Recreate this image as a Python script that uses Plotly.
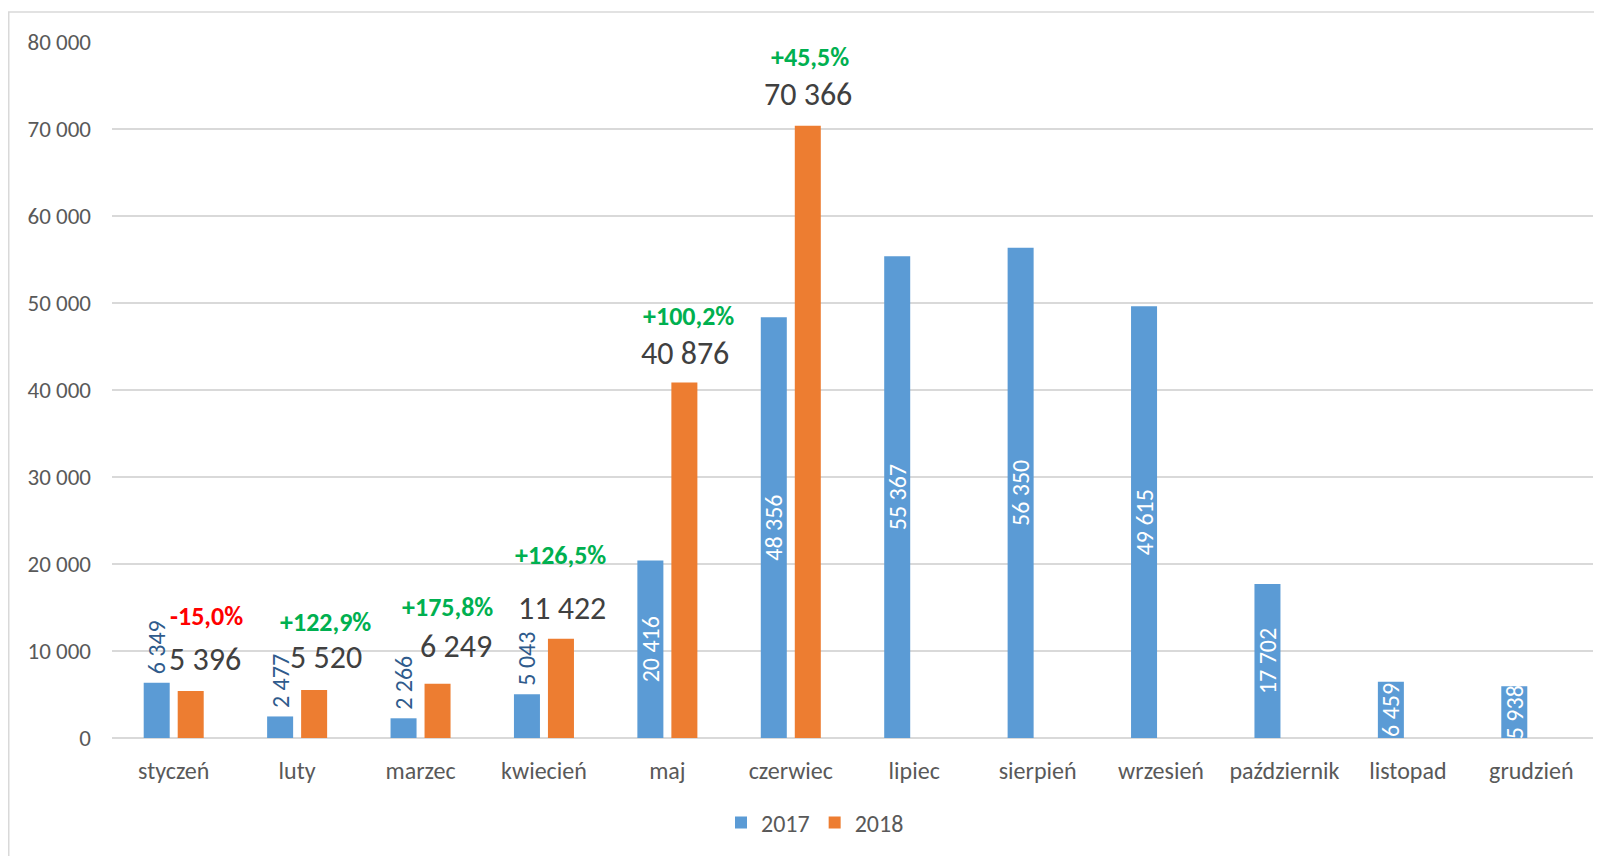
import plotly.graph_objects as go

months = ["styczeń", "luty", "marzec", "kwiecień", "maj", "czerwiec",
          "lipiec", "sierpień", "wrzesień", "październik", "listopad", "grudzień"]
values_2017 = [6349, 2477, 2266, 5043, 20416, 48356, 55367, 56350, 49615, 17702, 6459, 5938]
values_2018 = [5396, 5520, 6249, 11422, 40876, 70366, None, None, None, None, None, None]
y_ticks = [0, 10000, 20000, 30000, 40000, 50000, 60000, 70000, 80000]

# styling: where each 2017 label sits, and pixel offsets for the 2018 annotations
label_pos_2017 = ["outside"] * 4 + ["inside"] * 8
val_dx = [31, 29, 35, 18, 18, 17]
val_dy = [32, 32, 37, 30, 29, 31]
pct_dx = [33, 28, 27, 17, 21, 19]
pct_dy = [75, 68, 77, 84, 66, 69]

FONT = "Carlito, Calibri, Lato, sans-serif"
BLUE = "#5B9BD5"
ORANGE = "#ED7D31"


def fmt(v):
    return f"{v:,}".replace(",", " ")


# page has an 8px body margin: figure sits at (8, 8)
W, H = 1594, 848
ML, MR, MT, MB = 104, 9, 34, 118
PW, PH = W - ML - MR, H - MT - MB

texts_2017 = [("\u00a0" + fmt(v)) if p == "outside" else fmt(v)
              for v, p in zip(values_2017, label_pos_2017)]

fig = go.Figure()
fig.add_trace(go.Bar(
    name="2017", x=months, y=values_2017, marker_color=BLUE,
    marker_line_width=0,
    text=texts_2017, textposition=label_pos_2017,
    textangle=-90, insidetextanchor="middle", constraintext="none",
    insidetextfont=dict(family=FONT, size=24, color="white"),
    outsidetextfont=dict(family=FONT, size=24, color="#2F5B8C"),
    cliponaxis=False,
))
fig.add_trace(go.Bar(
    name="2018", x=months, y=values_2018, marker_color=ORANGE,
    marker_line_width=0,
))

for i, v in enumerate(values_2018):
    if v is None:
        continue
    fig.add_annotation(x=months[i], y=v, text=fmt(v), showarrow=False,
                       xshift=val_dx[i], yshift=val_dy[i], yanchor="middle",
                       font=dict(family=FONT, size=32, color="#404040"))
    ch = (v / values_2017[i] - 1) * 100
    s = f"{ch:+.1f}%".replace(".", ",")
    col = "#00B050" if ch >= 0 else "#FF0000"
    fig.add_annotation(x=months[i], y=v, text=f"<b>{s}</b>", showarrow=False,
                       xshift=pct_dx[i], yshift=pct_dy[i], yanchor="middle",
                       font=dict(family=FONT, size=26, color=col))

# chart-area border (left and top edges visible)
fig.add_shape(type="rect", xref="paper", yref="paper",
              x0=(0.75 - ML) / PW, x1=(W + 20 - ML) / PW,
              y0=-(H + 20 - MT - PH) / PH, y1=(MT + PH - 4) / PH,
              line=dict(color="#D9D9D9", width=1.5), layer="below")

fig.update_layout(
    width=W, height=H,
    margin=dict(l=ML, r=MR, t=MT, b=MB),
    paper_bgcolor="white", plot_bgcolor="white",
    separators=", ",
    barmode="group", bargap=0.449, bargroupgap=0.235,
    font=dict(family=FONT, size=23, color="#595959"),
    showlegend=True,
    legend=dict(orientation="h", x=(807 - ML) / PW, xanchor="center",
                y=-(815 - MT - PH) / PH, yanchor="middle",
                font=dict(family=FONT, size=24, color="#595959"),
                itemwidth=30, traceorder="normal"),
    xaxis=dict(showgrid=False, showline=False, ticks="",
               tickfont=dict(family=FONT, size=24, color="#595959"),
               ticklabelstandoff=16),
    yaxis=dict(range=[0, 80000], tickvals=y_ticks, tickformat=",d",
               showgrid=True, gridcolor="#D9D9D9", gridwidth=1.5,
               zeroline=True, zerolinecolor="#D9D9D9", zerolinewidth=1.5,
               showline=False, ticks="",
               tickfont=dict(family=FONT, size=23, color="#595959"),
               ticklabelstandoff=20),
)

fig.write_html("out.html")
